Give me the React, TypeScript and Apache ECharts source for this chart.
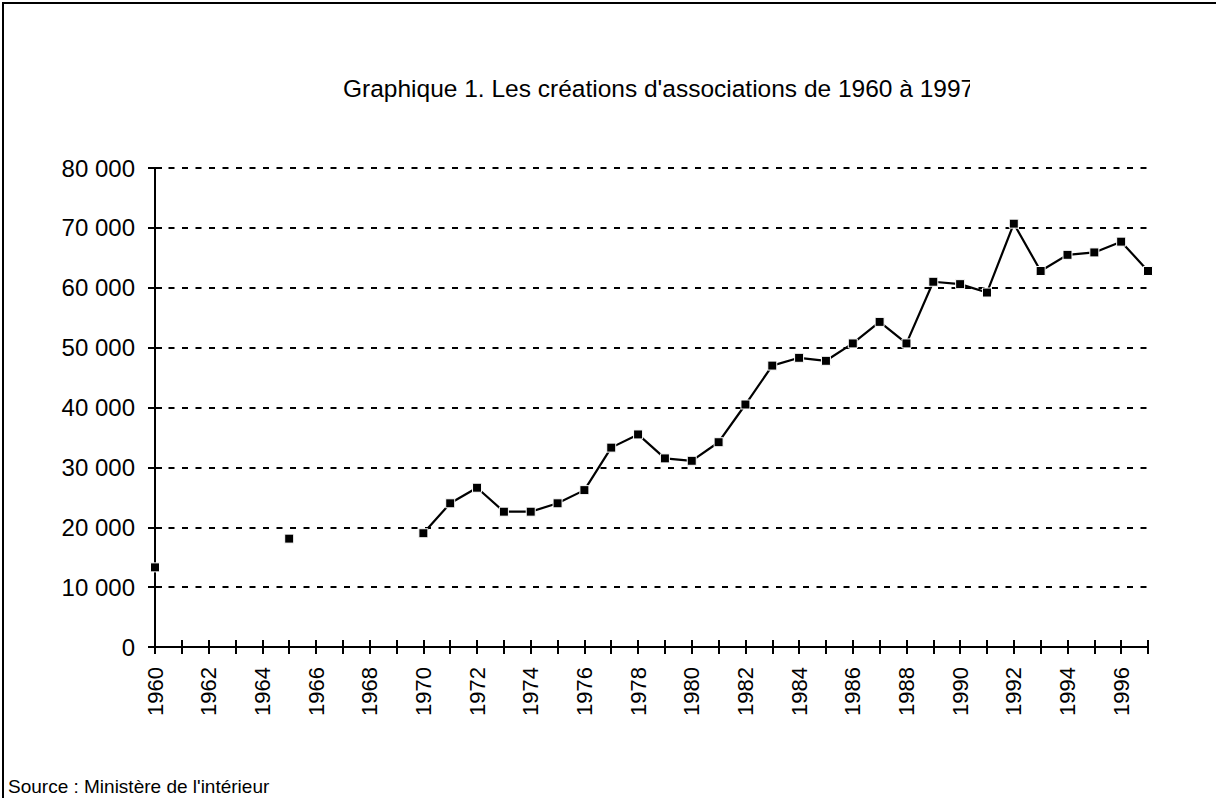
import React, { useEffect, useRef } from "react";
import * as echarts from "echarts";

const years: string[] = [
  "1960","1961","1962","1963","1964","1965","1966","1967","1968","1969",
  "1970","1971","1972","1973","1974","1975","1976","1977","1978","1979",
  "1980","1981","1982","1983","1984","1985","1986","1987","1988","1989",
  "1990","1991","1992","1993","1994","1995","1996","1997",
];

const creations: (number | null)[] = [
  13300, null, null, null, null, 18100, null, null, null, null,
  19000, 24000, 26600, 22600, 22600, 24000, 26200, 33300, 35500, 31500,
  31100, 34200, 40500, 47000, 48300, 47800, 50700, 54300, 50700, 61000,
  60600, 59200, 70700, 62800, 65500, 65900, 67700, 62800,
];

const titleText = "Graphique 1. Les créations d'associations de 1960 à 1997";
const sourceText = "Source : Ministère de l'intérieur";

const FONT = "'Liberation Sans', Arial, sans-serif";

export default function App() {
  const ref = useRef<HTMLDivElement>(null);

  useEffect(() => {
    if (!ref.current) return;
    const chart = echarts.init(ref.current, undefined, { renderer: "svg" });
    const fmt = (v: number) => (v === 0 ? "0" : `${Math.round(v / 1000)} 000`);
    chart.setOption({
      animation: false,
      backgroundColor: "#ffffff",
      textStyle: { fontFamily: FONT, color: "#000" },
      grid: { left: 155, top: 168, right: 68, bottom: 151 },
      xAxis: [
        {
          type: "category",
          data: years,
          boundaryGap: false,
          position: "bottom",
          axisLine: { show: true, lineStyle: { color: "#000", width: 2 } },
          axisTick: { show: true, interval: 0, length: 7, lineStyle: { color: "#000", width: 2 } },
          axisLabel: {
            interval: 1,
            rotate: 90,
            margin: 20,
            fontSize: 22,
            fontFamily: FONT,
            color: "#000",
          },
          splitLine: { show: false },
        },
        {
          type: "category",
          data: years,
          boundaryGap: false,
          position: "bottom",
          offset: 0,
          axisLine: { show: false },
          axisTick: { show: true, inside: true, interval: 0, length: 7, lineStyle: { color: "#000", width: 2 } },
          axisLabel: { show: false },
          splitLine: { show: false },
        },
      ],
      yAxis: [
        {
          type: "value",
          min: 0,
          max: 80000,
          interval: 10000,
          position: "left",
          axisLine: { show: true, lineStyle: { color: "#000", width: 2 } },
          axisTick: { show: true, length: 7, lineStyle: { color: "#000", width: 2 } },
          axisLabel: {
            margin: 20,
            fontSize: 24,
            fontFamily: FONT,
            color: "#000",
            formatter: fmt,
          },
          splitLine: {
            show: true,
            lineStyle: { color: "#000", width: 2.2, type: [6, 7.5] },
          },
        },
        {
          type: "value",
          min: 0,
          max: 80000,
          interval: 10000,
          position: "left",
          offset: 0,
          axisLine: { show: false },
          axisTick: { show: true, inside: true, length: 7, lineStyle: { color: "#000", width: 2 } },
          axisLabel: { show: false },
          splitLine: { show: false },
        },
      ],
      series: [
        {
          type: "line",
          data: creations,
          xAxisIndex: 0,
          yAxisIndex: 0,
          connectNulls: false,
          showSymbol: true,
          showAllSymbol: true,
          symbol: "rect",
          symbolSize: 9,
          z: 5,
          lineStyle: { color: "#000", width: 2.2 },
          itemStyle: { color: "#000", borderColor: "#fff", borderWidth: 1 },
        },
      ],
      graphic: [
        {
          type: "rect",
          shape: { x: 3, y: 3, width: 1230, height: 820 },
          style: { fill: "none", stroke: "#000", lineWidth: 2 },
          silent: true,
        },
        {
          type: "text",
          x: 343,
          y: 88,
          style: {
            text: titleText,
            fontSize: 24.5,
            fontFamily: FONT,
            fill: "#000",
            textAlign: "left",
            textVerticalAlign: "middle",
          },
        },
        {
          type: "rect",
          shape: { x: 970, y: 68, width: 50, height: 40 },
          style: { fill: "#fff" },
          z: 100,
          silent: true,
        },
        {
          type: "text",
          x: 8,
          y: 786,
          style: {
            text: sourceText,
            fontSize: 19,
            fontFamily: FONT,
            fill: "#000",
            textAlign: "left",
            textVerticalAlign: "middle",
          },
        },
      ],
    });
    return () => chart.dispose();
  }, []);

  return (
    <div
      ref={ref}
      style={{ position: "absolute", left: 0, top: 0, width: 1216, height: 798, background: "#fff" }}
    />
  );
}
